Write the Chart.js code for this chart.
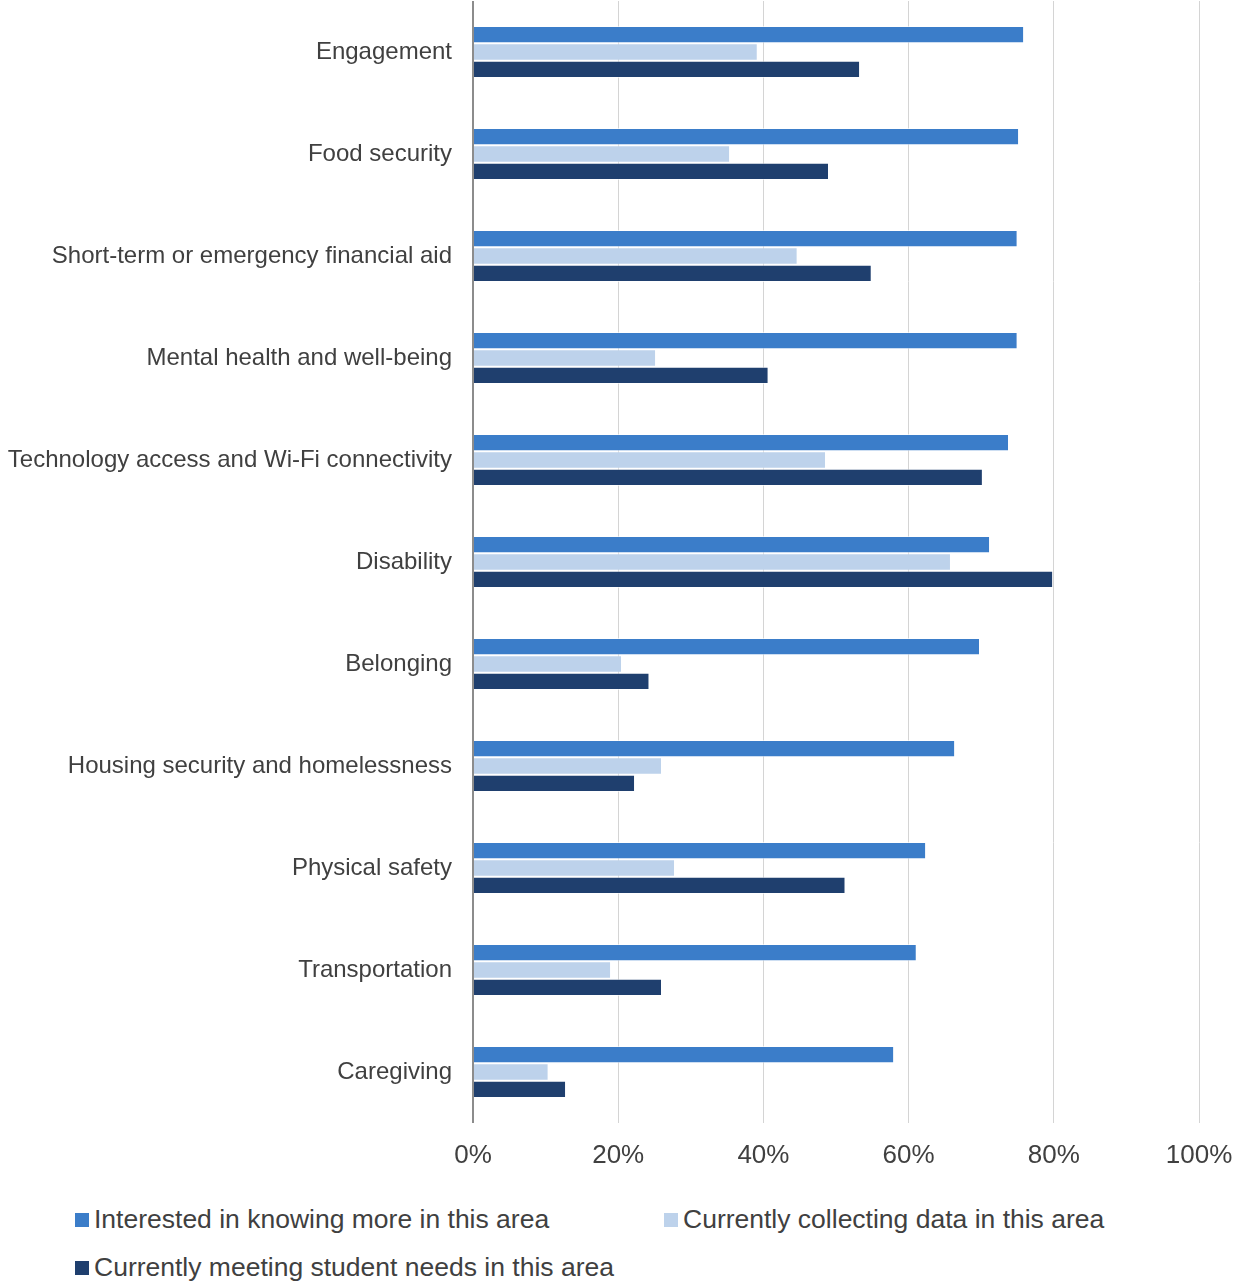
<!DOCTYPE html>
<html>
<head>
<meta charset="utf-8">
<script src="https://cdn.jsdelivr.net/npm/chart.js@4/dist/chart.umd.min.js"></script>
<style>
  body { margin: 0; background: #fff; font-family: "Liberation Sans", Arial, sans-serif; }
  #wrap { position: relative; width: 1240px; height: 1283px; }
  #box { position: absolute; left: 0; top: 0; width: 1240px; height: 1190px; }
  .leg { position: absolute; font-size: 26.5px; color: #404040; white-space: nowrap; line-height: 30px; }
  .leg span { display: inline-block; width: 14px; height: 14px; margin-right: 5px; vertical-align: 1px; }
</style>
</head>
<body>
<div id="wrap">
  <div id="box"><canvas id="chart0"></canvas></div>
  <div id="legend"></div>
</div>
<script>
var categories = [
  "Engagement",
  "Food security",
  "Short-term or emergency financial aid",
  "Mental health and well-being",
  "Technology access and Wi-Fi connectivity",
  "Disability",
  "Belonging",
  "Housing security and homelessness",
  "Physical safety",
  "Transportation",
  "Caregiving"
];
var seriesNames = [
  "Interested in knowing more in this area",
  "Currently collecting data in this area",
  "Currently meeting student needs in this area"
];
var interested = [75.8, 75.1, 74.9, 74.9, 73.7, 71.1, 69.7, 66.3, 62.3, 61.0, 57.9];
var collecting = [39.1, 35.3, 44.6, 25.1, 48.5, 65.7, 20.4, 25.9, 27.7, 18.9, 10.3];
var meeting = [53.2, 48.9, 54.8, 40.6, 70.1, 79.8, 24.2, 22.2, 51.2, 25.9, 12.7];
var xTicks = [0, 20, 40, 60, 80, 100];

var colors = ["#3B7DC9", "#BDD2EB", "#1F3F6E"];
var allValues = [interested, collecting, meeting];

var datasets = [];
for (var i = 0; i < seriesNames.length; i++) {
  datasets.push({
    label: seriesNames[i],
    data: allValues[i],
    backgroundColor: colors[i],
    borderColor: "rgba(255,255,255,0.6)",
    borderWidth: { top: 1, bottom: 1 },
    categoryPercentage: 0.51,
    barPercentage: 1.0
  });
}

// legend as plain html, two rows like the original
var legendPos = [[75, 1204], [664, 1204], [75, 1252]];
var legendDiv = document.getElementById("legend");
for (var j = 0; j < seriesNames.length; j++) {
  var item = document.createElement("div");
  item.className = "leg";
  item.style.left = legendPos[j][0] + "px";
  item.style.top = legendPos[j][1] + "px";
  item.innerHTML = '<span style="background:' + colors[j] + '"></span>' + seriesNames[j];
  legendDiv.appendChild(item);
}

Chart.defaults.font.family = '"Liberation Sans", Arial, sans-serif';
Chart.defaults.color = "#404040";

var ctx0 = document.getElementById("chart0");
var myChart = new Chart(ctx0, {
  type: "bar",
  data: { labels: categories, datasets: datasets },
  options: {
    indexAxis: "y",
    responsive: true,
    maintainAspectRatio: false,
    animation: false,
    layout: { padding: { top: 1, right: 41, bottom: 0, left: 0 } },
    plugins: { legend: { display: false }, tooltip: { enabled: false } },
    scales: {
      x: {
        min: 0,
        max: 100,
        afterBuildTicks: function (scale) {
          scale.ticks = xTicks.map(function (v) { return { value: v }; });
        },
        afterFit: function (scale) {
          scale.height = 67;
          scale.paddingLeft = 0;
          scale.paddingRight = 0;
        },
        ticks: {
          font: { size: 26 },
          color: "#404040",
          padding: 17,
          callback: function (v) { return v + "%"; }
        },
        grid: {
          color: function (c) { return c.tick && c.tick.value === 0 ? "#8c8c8c" : "#d4d4d4"; },
          lineWidth: function (c) { return c.tick && c.tick.value === 0 ? 2 : 1; },
          drawTicks: false
        },
        border: { display: false }
      },
      y: {
        afterFit: function (scale) {
          scale.width = 473;
          scale.paddingTop = 0;
          scale.paddingBottom = 0;
        },
        ticks: { font: { size: 24 }, color: "#404040", padding: 21 },
        grid: { display: false, drawTicks: false },
        border: { display: false }
      }
    }
  }
});
</script>
</body>
</html>
